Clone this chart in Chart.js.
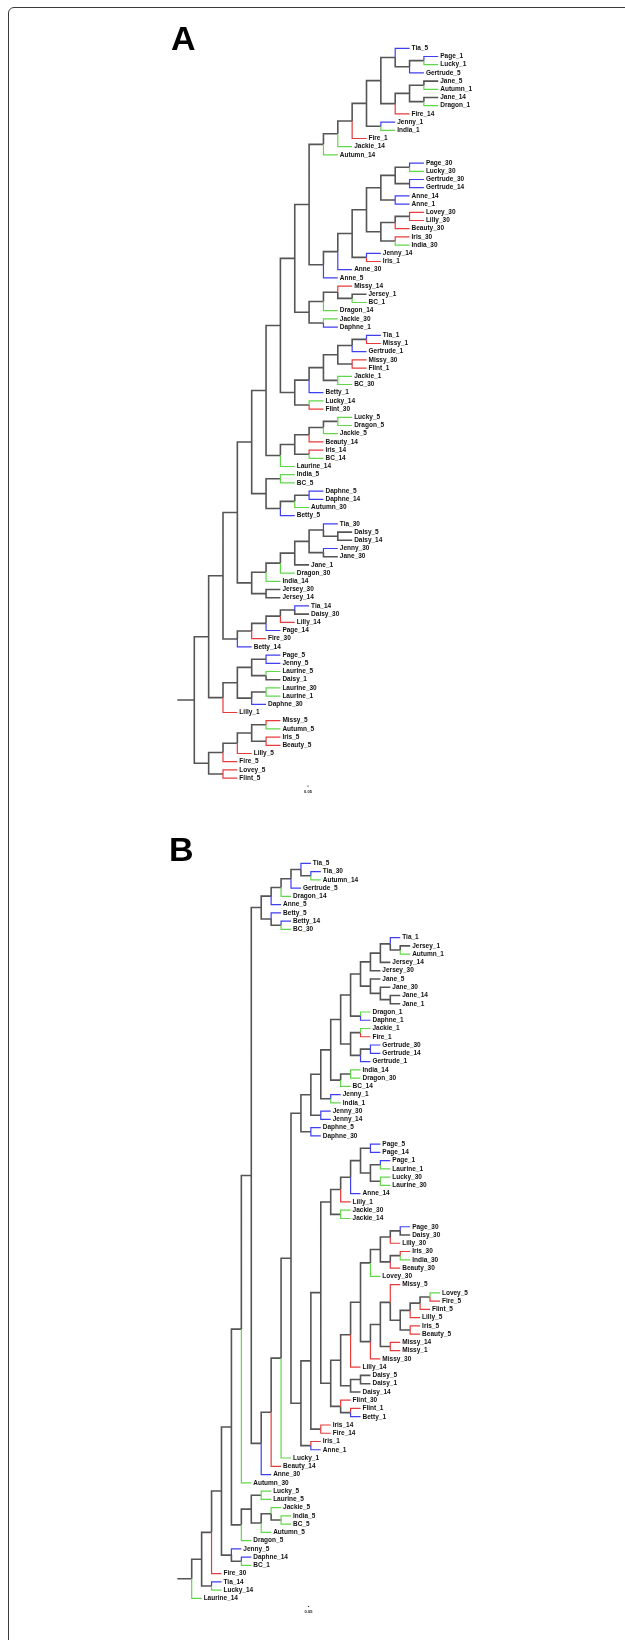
<!DOCTYPE html>
<html>
<head>
<meta charset="utf-8">
<script src="https://cdn.jsdelivr.net/npm/chart.js@4.4.1/dist/chart.umd.min.js"></script>
<style>
  html, body { margin: 0; padding: 0; background: #fff; }
  body { width: 625px; height: 1640px; position: relative; overflow: hidden; font-family: "Liberation Sans", Arial, sans-serif; }
  .frame { position: absolute; left: 8px; top: 7px; width: 700px; height: 1750px; border: 1.3px solid #3a3a3a; border-radius: 6px; }
  .panel { position: absolute; left: 0; width: 625px; height: 820px; }
  .tag { position: absolute; font-weight: bold; font-size: 34px; line-height: 1; color: #000; }
  canvas { position: absolute; left: 0; top: 0; }
</style>
</head>
<body>
<div class="frame"></div>
<div class="panel" style="top:0"><canvas id="treeA" width="625" height="820"></canvas></div>
<div class="panel" style="top:820px"><canvas id="treeB" width="625" height="820"></canvas></div>
<div class="tag" style="left:171px;top:21px">A</div>
<div class="tag" style="left:169px;top:832px">B</div>

<script>
// tree topology (newick, no branch lengths - the plot is a cladogram)
// "@name" pulls in a sub-clade from the list below
const treeA = '(((((((((@A1,@A2),@A3),@A4),@A5),@A6),@A7),@A8),@A9),@A10)';
const cladesA = [
  ['A1', '((((((Tia_5,((Page_1,Lucky_1),Gertrude_5)),(((Jane_5,Autumn_1),(Jane_14,Dragon_1)),Fire_14)),(Jenny_1,India_1)),Fire_1),Jackie_14),Autumn_14)'],
  ['A2', '(((((((Page_30,Lucky_30),(Gertrude_30,Gertrude_14)),(Anne_14,Anne_1)),(((Lovey_30,Lilly_30),Beauty_30),(Iris_30,India_30))),(Jenny_14,Iris_1)),Anne_30),Anne_5)'],
  ['A3', '(((Missy_14,(Jersey_1,BC_1)),Dragon_14),(Jackie_30,Daphne_1))'],
  ['A4', '((((((Tia_1,Missy_1),Gertrude_1),(Missy_30,Flint_1)),(Jackie_1,BC_30)),Betty_1),(Lucky_14,Flint_30))'],
  ['A5', '(((((Lucky_5,Dragon_5),Jackie_5),Beauty_14),(Iris_14,BC_14)),Laurine_14)'],
  ['A6', '((India_5,BC_5),(((Daphne_5,Daphne_14),Autumn_30),Betty_5))'],
  ['A7', '((((((Tia_30,(Daisy_5,Daisy_14)),(Jenny_30,Jane_30)),Jane_1),Dragon_30),India_14),(Jersey_30,Jersey_14))'],
  ['A8', '(((((Tia_14,Daisy_30),Lilly_14),Page_14),Fire_30),Betty_14)'],
  ['A9', '((((Page_5,Jenny_5),(Laurine_5,Daisy_1)),((Laurine_30,Laurine_1),Daphne_30)),Lilly_1)'],
  ['A10', '(((((Missy_5,Autumn_5),(Iris_5,Beauty_5)),Lilly_5),Fire_5),(Lovey_5,Flint_5))']
];

const treeB = '(((((((@B1,((((@Btop,@Bbot),Lucky_1),Beauty_14),Anne_30)),Autumn_30),@B5),@B6),Fire_30),(Tia_14,Lucky_14)),Laurine_14)';
const cladesB = [
  ['B1', '(((((Tia_5,(Tia_30,Autumn_14)),Gertrude_5),Dragon_14),Anne_5),(Betty_5,(Betty_14,BC_30)))'],
  ['Btop', '((((@B2,((India_14,Dragon_30),BC_14)),(Jenny_1,India_1)),(Jenny_30,Jenny_14)),(Daphne_5,Daphne_30))'],
  ['B2', '((((((Tia_1,(Jersey_1,Autumn_1)),Jersey_14),Jersey_30),(Jane_5,(Jane_30,(Jane_14,Jane_1)))),(Dragon_1,Daphne_1)),((Jackie_1,Fire_1),((Gertrude_30,Gertrude_14),Gertrude_1)))'],
  ['Bbot', '(((@B3,@B4),(Iris_14,Fire_14)),(Iris_1,Anne_1))'],
  ['B3', '(((((Page_5,Page_14),((Page_1,Laurine_1),(Lucky_30,Laurine_30))),Anne_14),Lilly_1),(Jackie_30,Jackie_14))'],
  ['B4', '((((@B4a,@B4b),Lilly_14),((Daisy_5,Daisy_1),Daisy_14)),(Flint_30,(Flint_1,Betty_1)))'],
  ['B4a', '((((Page_30,Daisy_30),Lilly_30),((Iris_30,India_30),Beauty_30)),Lovey_30)'],
  ['B4b', '(((Missy_5,((((Lovey_5,Fire_5),Flint_5),Lilly_5),(Iris_5,Beauty_5))),(Missy_14,Missy_1)),Missy_30)'],
  ['B5', '(((Lucky_5,Laurine_5),((Jackie_5,(India_5,BC_5)),Autumn_5)),Dragon_5)'],
  ['B6', '(Jenny_5,(Daphne_14,BC_1))']
];

// tip branch colour groups (by animal name)
const blueNames = ['Tia', 'Page', 'Gertrude', 'Jenny', 'Anne', 'Daphne', 'Betty'];
const greenNamesA = ['Lucky', 'Autumn', 'Dragon', 'India', 'Jackie', 'BC', 'Laurine'];
const redNamesA = ['Fire', 'Lovey', 'Lilly', 'Beauty', 'Iris', 'Missy', 'Flint'];
const greenNamesB = ['Lucky', 'Autumn', 'Dragon', 'India', 'Jackie', 'BC', 'Laurine', 'Lovey'];
const redNamesB = ['Fire', 'Lilly', 'Beauty', 'Iris', 'Missy', 'Flint'];

const scaleLabel = '0.05';

const COLORS = { gray: '#555555', blue: '#3f3ff2', green: '#62d64a', red: '#e63b3b' };

function expand(str, clades) {
    const map = Object.fromEntries(clades);
    return str.replace(/@(\w+)/g, (m, k) => expand(map[k], clades));
}

function parseNewick(s) {
    let i = 0;
    function node() {
        if (s[i] === '(') {
            i++;
            const kids = [node()];
            while (s[i] === ',') { i++; kids.push(node()); }
            if (s[i] !== ')') throw new Error('newick: expected ) at ' + i);
            i++;
            return { kids };
        }
        const j = i;
        while (i < s.length && !',()'.includes(s[i])) i++;
        return { name: s.slice(j, i) };
    }
    const root = node();
    if (i !== s.length) throw new Error('newick: trailing text');
    return root;
}

function layoutTree(root) {
    const leaves = [];
    let maxDepth = 0;
    (function walk(n, d) {
        n.d = d;
        if (d > maxDepth) maxDepth = d;
        if (n.kids) {
            n.kids.forEach(k => walk(k, d + 1));
            n.y = (n.kids[0].y + n.kids[n.kids.length - 1].y) / 2;
        } else {
            n.y = leaves.length;
            leaves.push(n);
        }
    })(root, 0);
    return { leaves, maxDepth };
}

function buildSegments(root, stub, colorOf) {
    const sets = { gray: [], blue: [], green: [], red: [] };
    const gap = { x: NaN, y: NaN };
    sets.gray.push({ x: -stub, y: root.y }, { x: 0, y: root.y }, gap);
    (function walk(n) {
        if (!n.kids) return;
        n.kids.forEach(k => {
            const col = k.kids ? 'gray' : colorOf(k.name);
            sets[col].push({ x: n.d, y: n.y }, { x: n.d, y: k.y }, { x: k.d, y: k.y }, gap);
            walk(k);
        });
    })(root);
    return sets;
}

// tip labels + scale bar
const tipLabels = {
    id: 'tipLabels',
    afterDatasetsDraw(chart, args, opts) {
        const { ctx, scales: { x, y }, chartArea } = chart;
        ctx.save();
        ctx.fillStyle = '#111';
        ctx.font = 'bold 6.5px "Liberation Sans", Arial, sans-serif';
        ctx.textBaseline = 'middle';
        ctx.textAlign = 'left';
        opts.leaves.forEach(l => {
            ctx.fillText(l.name, x.getPixelForValue(l.d) + 2, y.getPixelForValue(l.y));
        });
        // scale bar
        const sx = opts.barX;
        ctx.strokeStyle = '#222';
        ctx.lineWidth = 1;
        ctx.beginPath();
        ctx.moveTo(sx - 0.6, chartArea.bottom + 8);
        ctx.lineTo(sx + 0.6, chartArea.bottom + 8);
        ctx.stroke();
        ctx.font = 'bold 4px "Liberation Sans", Arial, sans-serif';
        ctx.textAlign = 'center';
        ctx.fillText(scaleLabel, sx, chartArea.bottom + 13.5);
        ctx.restore();
    }
};

function drawTree(canvasId, newick, clades, greens, reds, geo) {
    const root = parseNewick(expand(newick, clades));
    const { leaves, maxDepth } = layoutTree(root);
    if (leaves.length !== 90) throw new Error(canvasId + ': ' + leaves.length + ' leaves');

    const colorOf = name => {
        const who = name.split('_')[0];
        if (blueNames.includes(who)) return 'blue';
        if (greens.includes(who)) return 'green';
        if (reds.includes(who)) return 'red';
        return 'gray';
    };
    const stub = (geo.x0 - geo.stubLeft) / geo.dx;
    const sets = buildSegments(root, stub, colorOf);

    const datasets = ['gray', 'blue', 'green', 'red'].map(c => ({
        label: c,
        data: sets[c],
        showLine: true,
        borderColor: COLORS[c],
        borderWidth: c === 'gray' ? 1.6 : 1.2,
        pointRadius: 0,
        spanGaps: false,
        tension: 0,
        clip: false,
        order: c === 'gray' ? 2 : 1
    }));

    const W = 625, H = 820;
    const right = geo.x0 + maxDepth * geo.dx;
    const bottom = geo.y0 + (leaves.length - 1) * geo.dy;

    new Chart(document.getElementById(canvasId), {
        type: 'scatter',
        data: { datasets },
        options: {
            responsive: false,
            devicePixelRatio: 1,
            animation: false,
            events: [],
            layout: { padding: { left: geo.stubLeft, right: W - right, top: geo.y0, bottom: H - bottom } },
            scales: {
                x: { type: 'linear', display: false, min: -stub, max: maxDepth, grid: { display: false } },
                y: { type: 'linear', display: false, min: 0, max: leaves.length - 1, reverse: true, grid: { display: false } }
            },
            plugins: {
                legend: { display: false },
                tooltip: { enabled: false },
                tipLabels: { leaves, barX: geo.barX }
            }
        },
        plugins: [tipLabels]
    });
}

drawTree('treeA', treeA, cladesA, greenNamesA, redNamesA,
    { x0: 194.3, dx: 14.35, stubLeft: 177.3, y0: 48.3, dy: 8.2, barX: 308 });
drawTree('treeB', treeB, cladesB, greenNamesB, redNamesB,
    { x0: 191.7, dx: 9.93, stubLeft: 177.3, y0: 43.3, dy: 8.26, barX: 308.5 });
</script>
</body>
</html>
